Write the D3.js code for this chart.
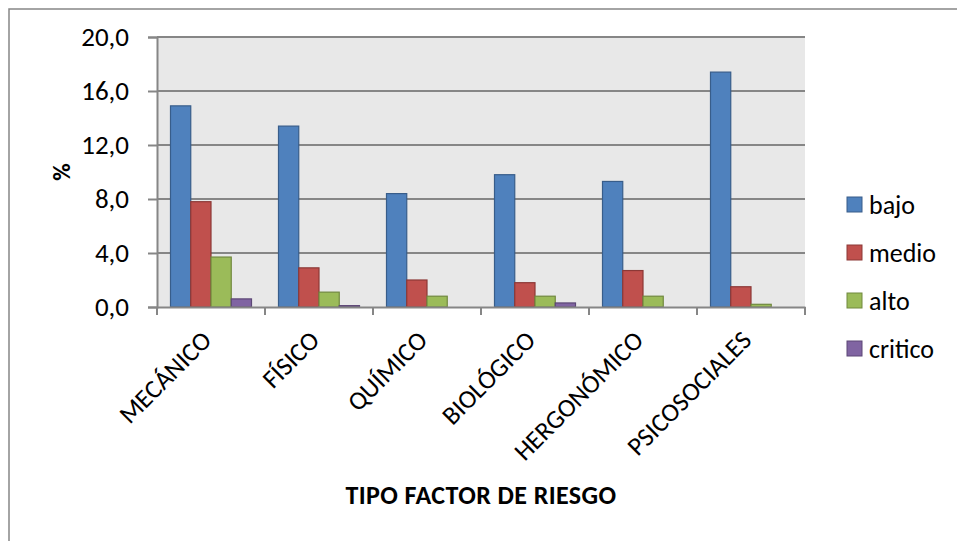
<!DOCTYPE html>
<html>
<head>
<meta charset="utf-8">
<script src="https://cdn.jsdelivr.net/npm/d3@7"></script>
<style>
  body { margin: 0; background: #fff; }
  text { font-family: Calibri, Carlito, Lato, "Open Sans", sans-serif; fill: #000; }
</style>
</head>
<body>
<div id="chart"></div>
<script>
// Data
const categories = ["MECÁNICO", "FÍSICO", "QUÍMICO", "BIOLÓGICO", "HERGONÓMICO", "PSICOSOCIALES"];
const series = ["bajo", "medio", "alto", "critico"];
const bajo = [14.9, 13.4, 8.4, 9.8, 9.3, 17.4];
const medio = [7.8, 2.9, 2.0, 1.8, 2.7, 1.5];
const alto = [3.7, 1.1, 0.8, 0.8, 0.8, 0.2];
const critico = [0.6, 0.1, 0.0, 0.3, 0.0, 0.0];
const yTicks = [0, 4, 8, 12, 16, 20];

const colors = {bajo: "#4F81BD", medio: "#C0504D", alto: "#9BBB59", critico: "#8064A2"};
const strokes = {bajo: "#385D8A", medio: "#8C3836", alto: "#71893F", critico: "#5C4776"};

const values = {bajo, medio, alto, critico};
const data = categories.map((c, i) => ({cat: c, vals: series.map(s => ({key: s, value: values[s][i]}))}));

const W = 957, H = 541;
const plot = {left: 157, right: 805, top: 37, bottom: 307};

const svg = d3.select("#chart")
    .append("svg")
    .attr("width", W)
    .attr("height", H);

// outer chart border
svg.append("rect")
    .attr("x", 9).attr("y", 9)
    .attr("width", 960).attr("height", 540)
    .attr("fill", "#fff")
    .attr("stroke", "#868686")
    .attr("stroke-width", 1.5);

// plot background
svg.append("rect")
    .attr("x", plot.left).attr("y", plot.top)
    .attr("width", plot.right - plot.left).attr("height", plot.bottom - plot.top)
    .attr("fill", "#E8E8E8");

// Scales
const x0 = d3.scaleBand()
    .domain(categories)
    .range([plot.left, plot.right])
    .padding(0);

const x1 = d3.scaleBand()
    .domain(series)
    .range([13.5, x0.bandwidth() - 13.5]);

const y = d3.scaleLinear()
    .domain([0, 20])
    .range([plot.bottom, plot.top]);

// Gridlines
svg.append("g")
    .selectAll("line")
    .data(yTicks.filter(d => d > 0))
    .join("line")
    .attr("x1", plot.left).attr("x2", plot.right)
    .attr("y1", d => y(d)).attr("y2", d => y(d))
    .attr("stroke", "#868686")
    .attr("stroke-width", 2);

// Bars
const groups = svg.append("g")
    .selectAll("g")
    .data(data)
    .join("g")
    .attr("transform", d => `translate(${x0(d.cat)},0)`);

groups.selectAll("rect")
    .data(d => d.vals)
    .join("rect")
    .attr("x", d => x1(d.key))
    .attr("y", d => y(d.value))
    .attr("width", x1.bandwidth())
    .attr("height", d => y(0) - y(d.value))
    .attr("fill", d => colors[d.key])
    .attr("stroke", d => strokes[d.key])
    .attr("stroke-width", 1.2);

// Y axis
const yAxis = svg.append("g")
    .attr("transform", `translate(${plot.left},0)`)
    .call(d3.axisLeft(y).tickValues(yTicks).tickSize(9).tickPadding(19)
        .tickFormat(d => d3.format(".1f")(d).replace(".", ",")));
yAxis.select(".domain").attr("stroke", "#868686").attr("stroke-width", 2);
yAxis.selectAll(".tick line").attr("stroke", "#868686").attr("stroke-width", 2);
yAxis.selectAll(".tick text")
    .style("font-size", "27px")
    .attr("fill", "#000");

// X axis
const xAxis = svg.append("g")
    .attr("transform", `translate(0,${plot.bottom})`)
    .call(d3.axisBottom(x0).tickSize(0).tickFormat(""));
xAxis.select(".domain").attr("stroke", "#868686").attr("stroke-width", 2);

// tick marks at category boundaries
xAxis.append("g")
    .selectAll("line")
    .data(categories.concat(["end"]))
    .join("line")
    .attr("x1", (d, i) => plot.left + i * x0.step())
    .attr("x2", (d, i) => plot.left + i * x0.step())
    .attr("y1", 0).attr("y2", 8)
    .attr("stroke", "#868686")
    .attr("stroke-width", 2);

// rotated category labels
svg.append("g")
    .selectAll("text")
    .data(categories)
    .join("text")
    .attr("transform", d => `translate(${x0(d) + x0.bandwidth() / 2 - 11},${plot.bottom + 22}) rotate(-45)`)
    .attr("text-anchor", "end")
    .attr("dy", "0.7em")
    .style("font-size", "26px")
    .text(d => d);

// Axis titles
svg.append("text")
    .attr("x", 481)
    .attr("y", 504)
    .attr("text-anchor", "middle")
    .style("font-size", "26px")
    .style("font-weight", "bold")
    .style("letter-spacing", "0.4px")
    .text("TIPO FACTOR DE RIESGO");

svg.append("text")
    .attr("transform", "translate(70,172) rotate(-90)")
    .attr("text-anchor", "middle")
    .style("font-size", "24px")
    .style("font-weight", "bold")
    .text("%");

// Legend
const legend = svg.append("g")
    .selectAll("g")
    .data(series)
    .join("g")
    .attr("transform", (d, i) => `translate(847,${205 + i * 48})`);

legend.append("rect")
    .attr("x", 0).attr("y", -8)
    .attr("width", 15).attr("height", 15)
    .attr("fill", d => colors[d])
    .attr("stroke", d => strokes[d])
    .attr("stroke-width", 1);

legend.append("text")
    .attr("x", 22)
    .attr("y", 0)
    .attr("dy", "0.35em")
    .style("font-size", "26px")
    .text(d => d);
</script>
</body>
</html>
